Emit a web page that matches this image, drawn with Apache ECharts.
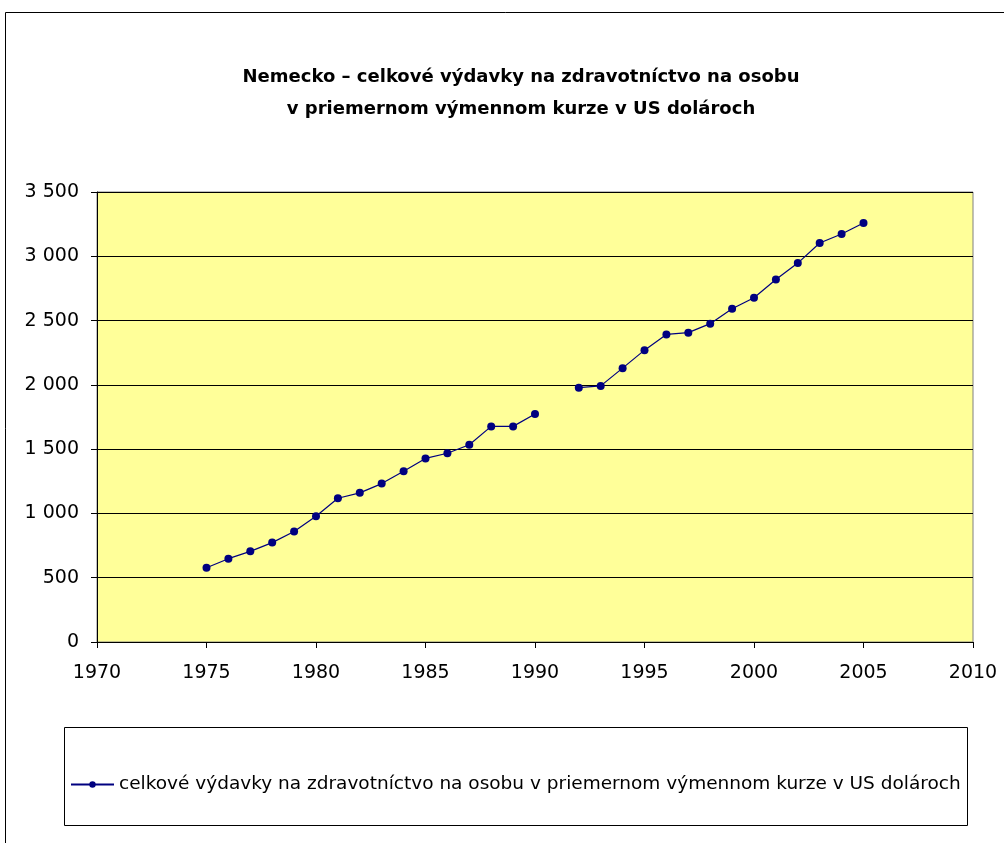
<!DOCTYPE html>
<html>
<head>
<meta charset="utf-8">
<script src="https://cdn.jsdelivr.net/npm/echarts@6/dist/echarts.min.js"></script>
<style>
  html, body { margin: 0; padding: 0; background: #fff; }
  #chart { width: 1004px; height: 843px; }
</style>
</head>
<body>
<div id="chart"></div>
<script>
// years and per-capita health spending (USD), 1991 missing in source
const years = [1975, 1976, 1977, 1978, 1979, 1980, 1981, 1982, 1983, 1984, 1985, 1986, 1987, 1988, 1989, 1990,
  1991, 1992, 1993, 1994, 1995, 1996, 1997, 1998, 1999, 2000, 2001, 2002, 2003, 2004, 2005]
const spending = [578, 648, 705, 773, 859, 978, 1118, 1160, 1232, 1328, 1428, 1468, 1534, 1677, 1677, 1773,
  null, 1978, 1992, 2130, 2270, 2392, 2406, 2476, 2592, 2678, 2820, 2947, 3103, 3173, 3259]
const seriesName = 'celkové výdavky na zdravotníctvo na osobu v priemernom výmennom kurze v US dolároch'
const titleText = 'Nemecko – celkové výdavky na zdravotníctvo na osobu\nv priemernom výmennom kurze v US dolároch'

const font = 'DejaVu Sans, sans-serif'
const chart = echarts.init(document.getElementById('chart'))

chart.setOption({
  animation: false,
  backgroundColor: '#fff',
  title: {
    text: titleText,
    left: 516,
    textAlign: 'center',
    top: 56,
    textStyle: { fontFamily: font, fontSize: 18, fontWeight: 'bold', color: '#000', lineHeight: 32 }
  },
  graphic: [
    { type: 'rect', left: 3, top: 10, shape: { width: 1010, height: 850 },
      style: { fill: 'none', stroke: '#000', lineWidth: 1 } },
    { type: 'rect', left: 62, top: 725, shape: { width: 903, height: 98 },
      style: { fill: 'none', stroke: '#000', lineWidth: 1 } }
  ],
  legend: {
    left: 65,
    top: 770,
    itemWidth: 43,
    itemHeight: 8,
    textStyle: { fontFamily: font, fontSize: 18.5, color: '#000' },
    data: [seriesName]
  },
  grid: {
    left: 97, right: 31, top: 192, bottom: 201,
    show: true, backgroundColor: '#FFFF99', borderColor: '#808080', borderWidth: 1
  },
  xAxis: {
    type: 'value',
    min: 1970, max: 2010, interval: 5,
    axisLine: { show: true, onZero: false, lineStyle: { color: '#000' } },
    axisTick: { show: true, length: 6, lineStyle: { color: '#000' } },
    axisLabel: { fontFamily: font, fontSize: 19, color: '#000', margin: 22, formatter: v => String(v) },
    splitLine: { show: false }
  },
  yAxis: {
    type: 'value',
    min: 0, max: 3500, interval: 500,
    axisLine: { show: true, lineStyle: { color: '#000' } },
    axisTick: { show: true, length: 6, lineStyle: { color: '#000' } },
    axisLabel: {
      fontFamily: font, fontSize: 19, color: '#000', margin: 18,
      formatter: v => String(v).replace(/\B(?=(\d{3})+(?!\d))/g, ' ')
    },
    splitLine: { show: true, lineStyle: { color: '#000', width: 1 } }
  },
  series: [{
    name: seriesName,
    type: 'line',
    data: years.map((y, i) => [y, spending[i]]),
    connectNulls: false,
    symbol: 'circle',
    symbolSize: 8,
    itemStyle: { color: '#000080' },
    lineStyle: { color: '#000080', width: 1.2 }
  }]
})
</script>
</body>
</html>
